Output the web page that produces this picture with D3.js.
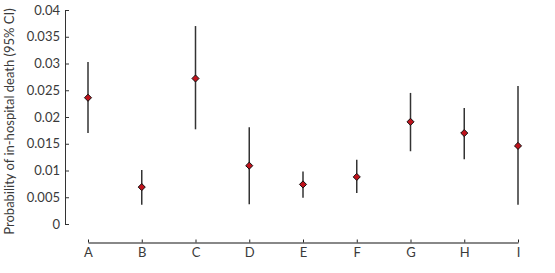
<!DOCTYPE html>
<html>
<head>
<meta charset="utf-8">
<script src="https://cdn.jsdelivr.net/npm/d3@7"></script>
<style>
  body { margin: 0; background: #fff; }
  svg text { font-family: Lato, "Open Sans", sans-serif; fill: #3a3a3a; }
</style>
</head>
<body>
<svg id="chart"></svg>
<script>
// data
const groups = ["A", "B", "C", "D", "E", "F", "G", "H", "I"];
const estimate = [0.0236, 0.0069, 0.0272, 0.0109, 0.0074, 0.0088, 0.0191, 0.0170, 0.0146];
const lowerCI  = [0.0170, 0.0036, 0.0177, 0.0037, 0.0049, 0.0058, 0.0136, 0.0121, 0.0036];
const upperCI  = [0.0303, 0.0101, 0.0370, 0.0181, 0.0098, 0.0120, 0.0245, 0.0217, 0.0258];
const yTicks = [0, 0.005, 0.01, 0.015, 0.02, 0.025, 0.03, 0.035, 0.04];
const yTickLabels = ["0", "0.005", "0.01", "0.015", "0.02", "0.025", "0.03", "0.035", "0.04"];
const yTitle = "Probability of in-hospital death (95% CI)";

const W = 555, H = 273;
const svg = d3.select("#chart").attr("width", W).attr("height", H);

const x = d3.scalePoint().domain(groups).range([88, 518]);
const y = d3.scaleLinear().domain([0, 0.04]).range([224, 10]);

const rows = groups.map((g, i) => ({ g, est: estimate[i], lo: lowerCI[i], hi: upperCI[i] }));

// y axis, ticks pointing inward
const yAxis = svg.append("g")
    .attr("transform", "translate(65,0)")
    .call(d3.axisLeft(y)
        .tickValues(yTicks)
        .tickFormat((d, i) => yTickLabels[i])
        .tickSizeInner(-4)
        .tickSizeOuter(-4)
        .tickPadding(5));
yAxis.select(".domain").attr("stroke", "#333").attr("stroke-width", 1);
yAxis.selectAll(".tick line").attr("stroke", "#333");
yAxis.selectAll("text").style("font-size", "13px").attr("fill", "#3a3a3a");

// x axis
const xAxis = svg.append("g")
    .attr("transform", "translate(0,242.5)")
    .call(d3.axisBottom(x)
        .tickSizeInner(-3)
        .tickSizeOuter(0)
        .tickPadding(5));
xAxis.select(".domain").attr("stroke", "#888").attr("stroke-width", 2);
xAxis.selectAll(".tick line").attr("stroke", "#222");
xAxis.selectAll("text").style("font-size", "13px").attr("fill", "#3a3a3a");

// y title
svg.append("text")
    .attr("transform", `translate(14,${(5 + 238) / 2}) rotate(-90)`)
    .attr("text-anchor", "middle")
    .style("font-size", "13px")
    .text(yTitle);

// confidence intervals
svg.append("g")
    .selectAll("line")
    .data(rows)
    .enter()
    .append("line")
    .attr("x1", d => x(d.g))
    .attr("x2", d => x(d.g))
    .attr("y1", d => y(d.hi))
    .attr("y2", d => y(d.lo))
    .attr("stroke", "#333")
    .attr("stroke-width", 1.5);

// point estimates
const diamond = d3.symbol().type(d3.symbolDiamond2).size(32);
svg.append("g")
    .selectAll("path")
    .data(rows)
    .enter()
    .append("path")
    .attr("d", diamond)
    .attr("transform", d => `translate(${x(d.g)},${y(d.est)})`)
    .attr("fill", "#c0121b")
    .attr("stroke", "#111")
    .attr("stroke-width", 1);
</script>
</body>
</html>
